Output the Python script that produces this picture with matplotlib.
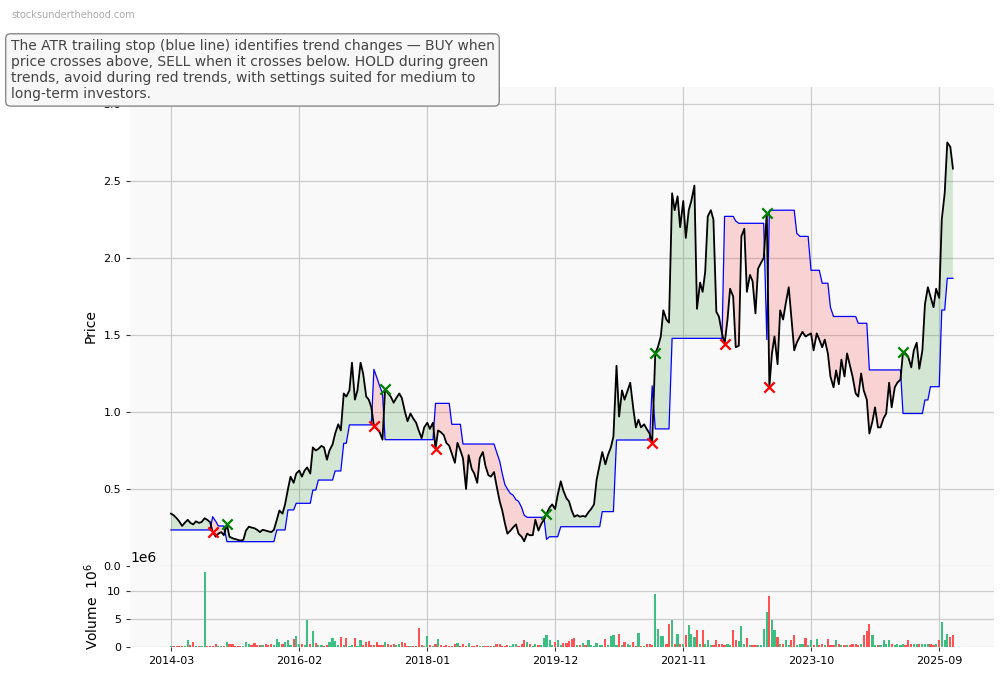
import numpy as np
import pandas as pd
import matplotlib
matplotlib.use("Agg")
from matplotlib import pyplot as plt


# Semi-monthly closes (2014-03 .. 2025-11)
price = [
    0.34, 0.33, 0.31, 0.29, 0.26, 0.28, 0.30, 0.28, 0.27, 0.29,
    0.28, 0.285, 0.31, 0.30, 0.285, 0.22, 0.19, 0.21, 0.22, 0.20,
    0.27, 0.19, 0.18, 0.175, 0.17, 0.165, 0.17, 0.23, 0.255, 0.25,
    0.245, 0.235, 0.22, 0.235, 0.23, 0.225, 0.22, 0.235, 0.30, 0.36,
    0.34, 0.40, 0.50, 0.58, 0.54, 0.60, 0.62, 0.58, 0.62, 0.64,
    0.60, 0.77, 0.75, 0.76, 0.78, 0.77, 0.69, 0.75, 0.79, 0.86,
    0.92, 0.88, 1.12, 1.10, 1.14, 1.32, 1.08, 1.14, 1.32, 1.25,
    1.10, 1.08, 1.03, 0.91, 0.89, 0.87, 0.82, 1.15, 1.12, 1.10,
    1.06, 1.09, 1.12, 1.09, 1.00, 0.94, 0.99, 0.96, 0.93, 0.88,
    0.83, 0.90, 0.93, 0.89, 0.93, 0.76, 0.88, 0.87, 0.85, 0.80,
    0.78, 0.73, 0.67, 0.80, 0.75, 0.70, 0.50, 0.72, 0.63, 0.60,
    0.54, 0.70, 0.74, 0.65, 0.59, 0.58, 0.61, 0.52, 0.42, 0.36,
    0.28, 0.21, 0.23, 0.25, 0.27, 0.21, 0.19, 0.16, 0.21, 0.20,
    0.20, 0.30, 0.23, 0.27, 0.30, 0.34, 0.38, 0.40, 0.37, 0.46,
    0.55, 0.49, 0.44, 0.42, 0.36, 0.32, 0.33, 0.32, 0.325, 0.32,
    0.35, 0.37, 0.40, 0.56, 0.66, 0.74, 0.66, 0.72, 0.77, 0.84,
    1.30, 0.97, 1.14, 1.08, 1.14, 1.19, 1.02, 0.90, 0.95, 0.90,
    0.92, 0.89, 0.86, 0.80, 1.38, 1.42, 1.49, 1.66, 1.60, 1.58,
    2.42, 2.31, 2.40, 2.20, 2.37, 2.13, 2.31, 2.37, 2.47, 1.67,
    1.84, 1.78, 1.91, 2.27, 2.31, 2.25, 1.65, 1.62, 1.51, 1.44,
    1.60, 1.80, 1.75, 1.42, 1.43, 2.14, 2.19, 1.78, 1.89, 1.85,
    1.64, 1.93, 1.97, 2.00, 2.29, 1.16, 1.38, 1.49, 1.31, 1.66,
    1.60, 1.70, 1.81, 1.62, 1.40, 1.45, 1.49, 1.52, 1.49, 1.50,
    1.51, 1.40, 1.51, 1.47, 1.42, 1.47, 1.38, 1.23, 1.16, 1.27,
    1.18, 1.34, 1.23, 1.38, 1.30, 1.23, 1.12, 1.10, 1.25, 1.14,
    1.08, 0.86, 0.94, 1.03, 0.90, 0.90, 0.96, 0.99, 1.19, 1.03,
    1.16, 1.19, 1.21, 1.39, 1.38, 1.36, 1.29, 1.40, 1.45, 1.28,
    1.40, 1.70, 1.81, 1.75, 1.68, 1.80, 1.74, 2.25, 2.42, 2.75,
    2.72, 2.58,
]

# Volume in millions, same dates
volume = [
    0.2, 0.15, 0.2, 0.15, 0.15, 0.2, 1.26, 0.3, 0.9, 0.2,
    0.2, 0.15, 13.4, 0.2, 0.1, 0.15, 0.5, 0.1, 0.15, 0.1,
    0.9, 0.5, 0.5, 0.1, 0.1, 0.15, 0.2, 0.9, 0.5, 0.3,
    0.7, 0.4, 0.3, 0.3, 0.5, 0.3, 0.6, 0.3, 1.4, 0.9,
    0.5, 0.9, 1.26, 0.4, 1.4, 2.0, 0.5, 0.5, 0.4, 4.85,
    0.5, 2.9, 0.7, 0.3, 0.3, 0.2, 0.3, 0.9, 1.6, 1.0,
    0.3, 1.8, 0.3, 1.55, 0.2, 0.3, 1.55, 0.2, 1.26, 0.3,
    0.9, 1.1, 0.3, 0.4, 0.95, 0.3, 0.3, 0.9, 0.5, 0.3,
    0.6, 0.3, 0.5, 0.9, 0.7, 0.2, 0.2, 0.2, 0.2, 3.4,
    0.3, 0.2, 1.9, 0.3, 0.2, 0.6, 1.4, 0.3, 0.2, 0.3,
    0.2, 0.2, 0.5, 0.7, 0.2, 0.5, 0.2, 0.7, 0.2, 0.2,
    0.3, 0.1, 0.1, 0.1, 0.1, 0.1, 0.1, 0.5, 0.5, 0.1,
    0.2, 0.3, 0.1, 0.5, 0.5, 0.1, 0.5, 1.2, 0.9, 0.6,
    0.2, 0.5, 0.3, 0.3, 1.6, 2.1, 1.2, 0.3, 0.9, 1.2,
    0.3, 0.8, 0.8, 1.0, 1.5, 1.6, 0.3, 0.3, 0.8, 0.3,
    1.26, 0.3, 0.2, 0.7, 0.3, 0.3, 1.4, 0.3, 1.9, 2.2,
    0.3, 2.4, 0.3, 0.9, 0.6, 0.3, 0.9, 0.2, 2.5, 0.2,
    0.2, 0.5, 0.5, 0.3, 9.5, 3.2, 1.9, 1.9, 0.6, 4.2,
    4.8, 0.6, 2.4, 0.5, 0.5, 2.1, 3.9, 2.4, 1.8, 3.0,
    0.5, 3.0, 0.5, 1.2, 0.4, 0.4, 1.2, 0.6, 0.6, 0.4,
    0.6, 0.4, 3.0, 1.3, 1.0, 3.7, 0.5, 1.7, 0.4, 0.4,
    0.4, 0.3, 0.4, 3.3, 6.3, 9.1, 4.9, 3.0, 1.8, 0.6,
    0.6, 1.3, 0.4, 1.3, 2.1, 0.4, 0.6, 0.6, 1.7, 0.4,
    1.2, 0.4, 1.5, 0.4, 0.6, 0.3, 1.5, 0.4, 0.4, 1.2,
    0.5, 0.3, 0.3, 0.3, 0.3, 0.5, 0.5, 0.4, 0.5, 2.1,
    2.9, 4.1, 2.1, 0.3, 0.3, 0.4, 1.2, 0.5, 1.2, 0.5,
    0.3, 0.6, 0.3, 0.5, 0.4, 1.3, 0.5, 0.5, 0.6, 0.5,
    0.5, 0.5, 0.5, 0.5, 0.4, 0.5, 1.3, 4.5, 1.3, 2.4,
    1.8, 2.2,
]

# ATR trailing stop: level changes (date it starts, level)
stop_dates = [
    "2014-03-01", "2014-10-15", "2014-11-01", "2014-11-15", "2015-01-01",
    "2015-10-01", "2015-12-01", "2016-01-15", "2016-04-15", "2016-05-15",
    "2016-08-15", "2016-10-01", "2016-11-01", "2017-03-15", "2017-04-01",
    "2017-04-15", "2017-05-01", "2017-05-15", "2018-02-15", "2018-05-15",
    "2018-07-15", "2019-01-15", "2019-02-01", "2019-02-15", "2019-03-01",
    "2019-03-15", "2019-04-01", "2019-04-15", "2019-05-01", "2019-05-15",
    "2019-06-01", "2019-06-15", "2019-07-01", "2019-10-15", "2019-11-01",
    "2020-01-01", "2020-08-15", "2020-11-01", "2021-05-15", "2021-06-01",
    "2021-09-01", "2022-06-15", "2022-08-15", "2022-09-01", "2023-02-01",
    "2023-02-15", "2023-07-15", "2023-08-01", "2023-10-01", "2023-12-01",
    "2024-01-15", "2024-02-01", "2024-06-15", "2024-08-15", "2025-02-15",
    "2025-06-15", "2025-07-15", "2025-09-15", "2025-10-15",
]
stop_levels = [
    0.234, 0.32, 0.29, 0.26, 0.158,
    0.234, 0.364, 0.407, 0.493, 0.558,
    0.617, 0.797, 0.916, 1.277, 1.22,
    1.17, 1.12, 0.82, 1.056, 0.92,
    0.792, 0.74, 0.68, 0.60, 0.53,
    0.50, 0.47, 0.46, 0.43, 0.42,
    0.38, 0.33, 0.316, 0.173, 0.19,
    0.255, 0.353, 0.818, 1.17, 0.89,
    1.478, 2.27, 2.24, 2.225, 1.47,
    2.31, 2.16, 2.14, 1.92, 1.836,
    1.68, 1.62, 1.576, 1.273, 0.99,
    1.078, 1.164, 1.662, 1.868,
]

buy_dates = ["2015-01-01", "2017-05-15", "2019-10-15", "2021-06-01",
             "2023-02-01", "2025-02-15"]
sell_dates = ["2014-10-15", "2017-03-15", "2018-02-15", "2021-05-15",
              "2022-06-15", "2023-02-15"]

tick_labels = ["2014-03", "2016-02", "2018-01", "2019-12", "2021-11",
               "2023-10", "2025-09"]

note = ("The ATR trailing stop (blue line) identifies trend changes \u2014 BUY when\n"
        "price crosses above, SELL when it crosses below. HOLD during green\n"
        "trends, avoid during red trends, with settings suited for medium to\n"
        "long-term investors.")


# Series
dates = pd.date_range("2014-03-01", periods=len(price), freq="SMS")
px = pd.Series(price, index=dates)
stop = pd.Series(stop_levels, index=pd.to_datetime(stop_dates))
stop = stop.reindex(dates, method="ffill")
vol = pd.Series(volume, index=dates) * 1e6
up = px.diff().fillna(0) >= 0
bar_colors = np.where(up, "#3dbf83", "#ff5252")


# Figure
fig = plt.figure(figsize=(10.04, 6.78), dpi=100)
ax = fig.add_axes([0.1295, 0.1652, 0.8606, 0.7065])
ax2 = fig.add_axes([0.1295, 0.0457, 0.8606, 0.1195], sharex=ax)

for a in (ax, ax2):
    a.set_facecolor("#f9f9f9")
    a.grid(True, color="#cccccc", linewidth=0.9)
    a.set_axisbelow(True)
    for sp in a.spines.values():
        sp.set_visible(False)
    a.tick_params(labelsize=8, length=3, color="#333333")

ax.fill_between(dates, px, stop, where=(px >= stop), interpolate=True,
                color="green", alpha=0.15, linewidth=0)
ax.fill_between(dates, px, stop, where=(px < stop), interpolate=True,
                color="red", alpha=0.15, linewidth=0)
ax.plot(dates, stop, color="blue", linewidth=0.9)
ax.plot(dates, px, color="black", linewidth=1.3)
ax.scatter(pd.to_datetime(buy_dates), px.loc[pd.to_datetime(buy_dates)],
           marker="x", color="green", s=55, linewidths=1.6, zorder=5)
ax.scatter(pd.to_datetime(sell_dates), px.loc[pd.to_datetime(sell_dates)],
           marker="x", color="red", s=55, linewidths=1.6, zorder=5)

ax.set_ylim(0, 3.11)
ax.set_yticks([0.0, 0.5, 1.0, 1.5, 2.0, 2.5, 3.0])
ax.set_ylabel("Price", fontsize=10)
ax.tick_params(axis="x", labelbottom=False, length=0)

ax2.bar(dates, vol, width=12, color=bar_colors)
ax2.set_ylim(0, 14.5e6)
ax2.set_yticks([0, 5e6, 10e6])
ax2.ticklabel_format(axis="y", style="sci", scilimits=(6, 6))
ax2.set_ylabel("Volume  $10^6$", fontsize=10)
ax2.yaxis.get_offset_text().set_fontsize(10)
ax2.set_xticks(pd.to_datetime(tick_labels))
ax2.set_xticklabels(tick_labels)
ax2.set_xlim(pd.Timestamp("2013-07-20"), pd.Timestamp("2026-06-28"))

fig.text(0.011, 0.978, "stocksunderthehood.com", fontsize=7, color="#aaaaaa",
         va="center")
fig.text(0.0105, 0.943, note, fontsize=10, color="#444444", va="top", ha="left",
         bbox=dict(boxstyle="round,pad=0.35", facecolor="#f7f7f7",
                   edgecolor="#888888"), zorder=10)

plt.savefig("out.png", dpi=100)
